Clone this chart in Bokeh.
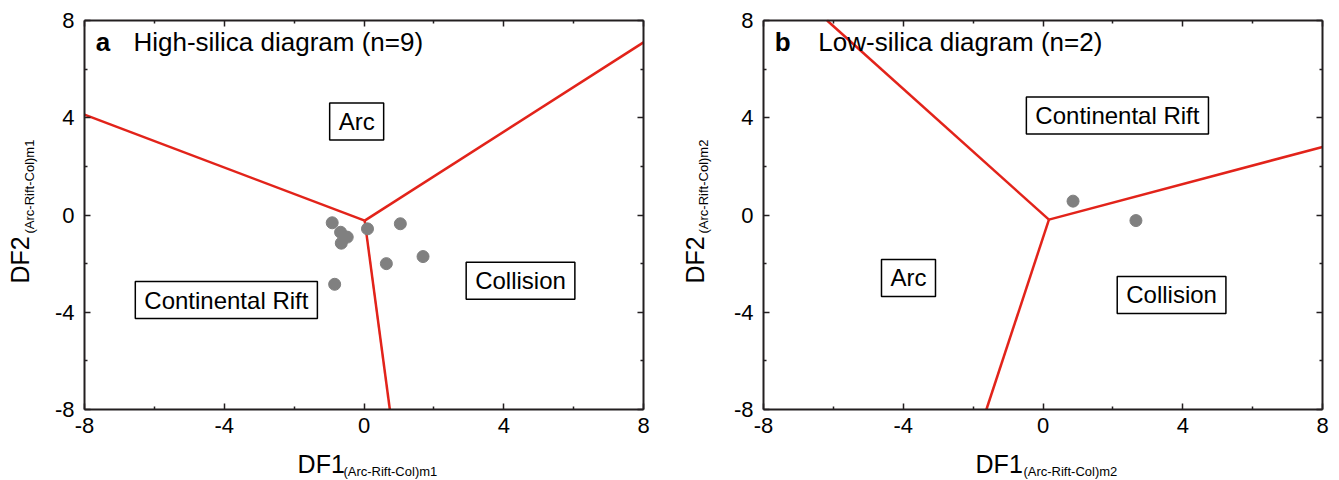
import math
from bokeh.plotting import figure
from bokeh.models import Range1d, FixedTicker, LinearAxis, Label
from bokeh.layouts import row
from bokeh.embed import file_html
from bokeh.resources import INLINE

# ---- data ----
a_x = [-0.91, -0.67, -0.48, -0.65, 0.10, 1.04, 0.64, 1.69, -0.84]
a_y = [-0.32, -0.71, -0.91, -1.16, -0.57, -0.36, -2.00, -1.71, -2.85]
b_x = [0.86, 2.66]
b_y = [0.57, -0.23]

a_bx = [[-8, 0.02], [0.02, 8], [0.02, 0.74]]
a_by = [[4.13, -0.23], [-0.23, 7.1], [-0.23, -8]]
b_bx = [[-6.18, 0.17], [0.17, 8], [0.17, -1.62]]
b_by = [[8, -0.19], [-0.19, 2.8], [-0.19, -8]]

a_fields = ["Arc", "Continental Rift", "Collision"]
a_fx = [-0.21, -3.94, 4.48]
a_fy = [3.85, -3.50, -2.70]
b_fields = ["Continental Rift", "Arc", "Collision"]
b_fx = [2.13, -3.85, 3.68]
b_fy = [4.09, -2.59, -3.29]

major = [-8, -4, 0, 4, 8]
minor = [-6, -2, 2, 6]
major_labels = {t: str(t) for t in major}

FONT = "Liberation Sans"
RED = "#e2231a"
AX = "#231f20"

BOX_W, BOX_H = 559, 389
SX = BOX_W / 16.0
SY = BOX_H / 16.0
TOP, BOTTOM = 20, 71


def make_axis(loc, show_labels):
    ax = LinearAxis(ticker=FixedTicker(ticks=major, minor_ticks=minor),
                    fixed_location=(-8 if loc in ("below", "left") else 8),
                    bounds=(-8, 8),
                    major_tick_in=6, major_tick_out=0, minor_tick_in=3, minor_tick_out=0,
                    axis_line_width=2, axis_line_color=AX,
                    major_tick_line_color=AX, minor_tick_line_color=AX,
                    major_tick_line_width=1.5, minor_tick_line_width=1.5)
    if show_labels:
        ax.major_label_overrides = major_labels
        ax.major_label_text_font = FONT
        ax.major_label_text_font_size = "22px"
        ax.major_label_text_color = "black"
        ax.major_label_standoff = 8 if loc == "below" else 10
    else:
        ax.major_label_text_color = None
    return ax


def make_panel(letter, title, px, py, bx, by, fields, fx, fy, sub, left_px, right_px,
               title_x, lab_x, lab_y):
    W = left_px + BOX_W + right_px
    H = TOP + BOX_H + BOTTOM
    p = figure(frame_width=W, frame_height=H, output_backend="svg",
               toolbar_location=None, x_axis_location=None, y_axis_location=None,
               x_range=Range1d(-8 - left_px / SX, 8 + right_px / SX),
               y_range=Range1d(-8 - BOTTOM / SY, 8 + TOP / SY),
               min_border=0)
    p.grid.visible = False
    p.outline_line_color = None
    p.background_fill_color = "white"
    p.border_fill_color = "white"
    for loc in ("below", "left", "above", "right"):
        p.add_layout(make_axis(loc, loc in ("below", "left")), loc)

    p.multi_line(xs=bx, ys=by, line_color=RED, line_width=2.5)
    p.scatter(px, py, size=12, fill_color="#808080", line_color="#808080")

    for t, x, y in zip(fields, fx, fy):
        p.add_layout(Label(x=x, y=y, text=t, text_font=FONT, text_font_size="24px",
                           text_color="black",
                           text_align="center", text_baseline="middle",
                           background_fill_color="white", border_line_color="black",
                           border_line_width=1.5,
                           padding=dict(left=9, right=9, top=5, bottom=5)))

    p.add_layout(Label(x=-7.68, y=7.11, text=letter, text_font=FONT, text_color="black",
                       text_font_style="bold", text_font_size="26px",
                       text_baseline="middle"))
    p.add_layout(Label(x=title_x, y=7.11, text=title, text_font=FONT, text_color="black",
                       text_font_size="26px", text_baseline="middle"))

    # x axis label with subscript
    p.add_layout(Label(x=lab_x[0], y=-10.23, text="DF1", text_font=FONT, text_color="black",
                       text_font_size="25px", text_baseline="middle"))
    p.add_layout(Label(x=lab_x[1], y=-10.546, text=sub, text_font=FONT, text_color="black",
                       text_font_size="13px", text_baseline="middle"))
    # y axis label with subscript
    p.add_layout(Label(x=lab_y[0], y=-2.82, text="DF2", text_font=FONT, text_color="black",
                       angle=math.pi / 2, text_font_size="25px", text_baseline="middle"))
    p.add_layout(Label(x=lab_y[1], y=-0.76, text=sub, text_font=FONT, text_color="black",
                       angle=math.pi / 2, text_font_size="13px", text_baseline="middle"))
    return p


p1 = make_panel("a", "High-silica diagram (n=9)", a_x, a_y, a_bx, a_by,
                a_fields, a_fx, a_fy, "(Arc-Rift-Col)m1", 84, 30,
                -6.60, (-1.90, -0.59), (-9.839, -9.576))
p2 = make_panel("b", "Low-silica diagram (n=2)", b_x, b_y, b_bx, b_by,
                b_fields, b_fx, b_fy, "(Arc-Rift-Col)m2", 90, 15,
                -6.43, (-1.93, -0.56), (-9.968, -9.704))

layout = row(p1, p2)
open("out.html", "w").write(file_html(layout, INLINE))
